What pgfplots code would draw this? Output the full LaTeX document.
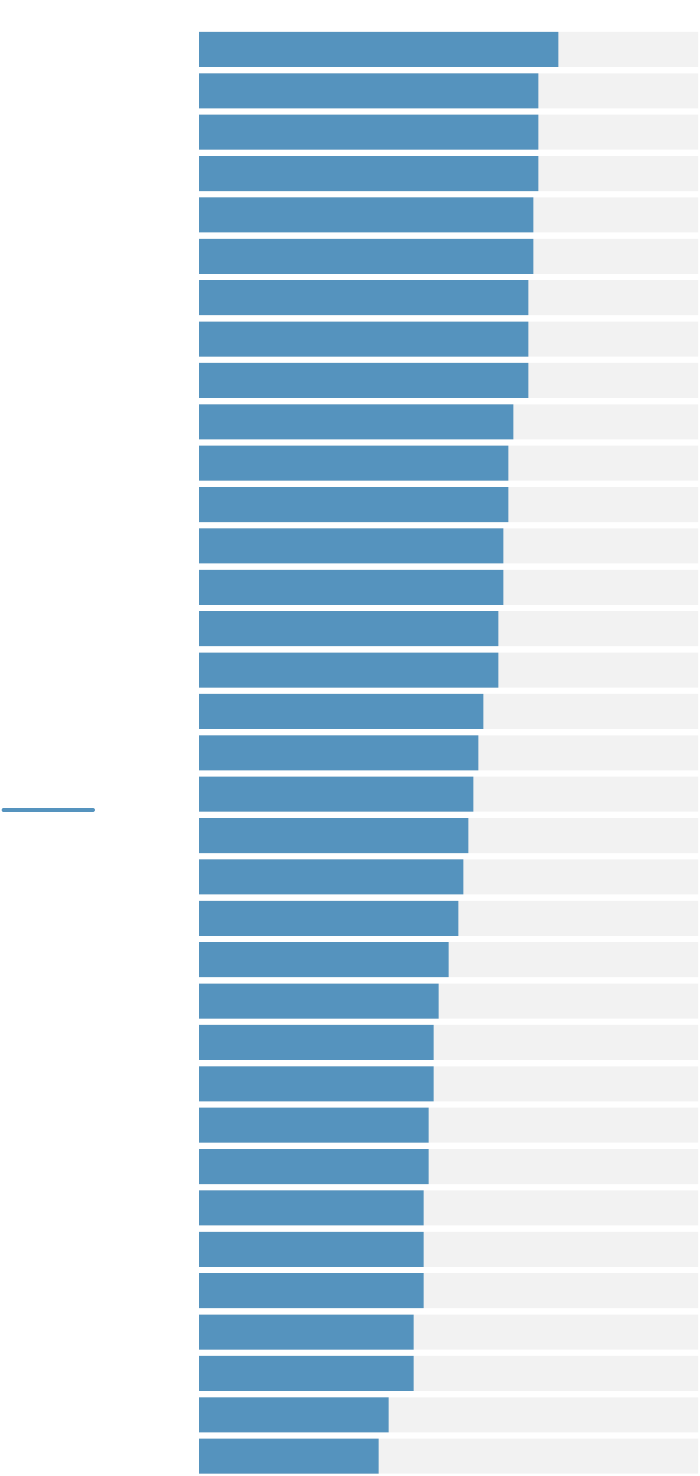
\documentclass[border=0pt]{standalone}
\usepackage{pgfplots}
\pgfplotsset{compat=1.18}
\usepackage{pgfplotstable}
\definecolor{barblue}{HTML}{5593BE}
\definecolor{bargray}{HTML}{F2F2F2}

\pgfplotstableread{
idx val full
1  72 100
2  68 100
3  68 100
4  68 100
5  67 100
6  67 100
7  66 100
8  66 100
9  66 100
10 63 100
11 62 100
12 62 100
13 61 100
14 61 100
15 60 100
16 60 100
17 57 100
18 56 100
19 55 100
20 54 100
21 53 100
22 52 100
23 50 100
24 48 100
25 47 100
26 47 100
27 46 100
28 46 100
29 45 100
30 45 100
31 45 100
32 43 100
33 43 100
34 38 100
35 36 100
}\bars

\begin{document}
\begin{tikzpicture}
\useasboundingbox (0,0) rectangle (700pt,1476pt);
\begin{axis}[
    at={(199pt,1476pt-28.8pt)},
    anchor=north west,
    scale only axis,
    width=499pt,
    height=1448pt,
    xmin=0, xmax=100,
    ymin=0.5, ymax=35.5,
    y dir=reverse,
    hide axis,
    clip=false,
]
    \addplot[xbar, bar width=35pt, bar shift=0pt, fill=bargray, draw=none]
        table[x=full, y=idx] {\bars};
    \addplot[xbar, bar width=35pt, bar shift=0pt, fill=barblue, draw=none]
        table[x=val, y=idx] {\bars};
    % small marker to the left
    \addplot[draw=barblue, line width=3.5pt, line cap=round, mark=none]
        coordinates {(-39.2,19.38) (-21.2,19.38)};
\end{axis}
\end{tikzpicture}
\end{document}
